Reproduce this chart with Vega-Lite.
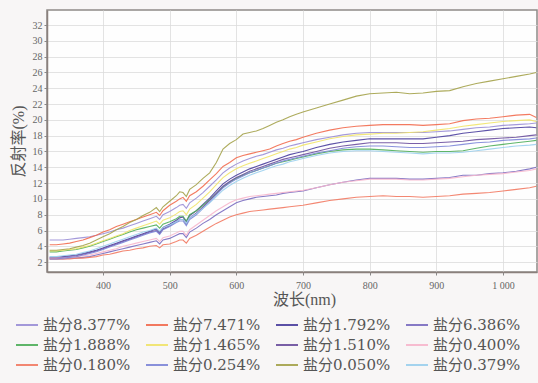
{
  "$schema": "https://vega.github.io/schema/vega-lite/v6.json",
  "width": 490,
  "height": 262,
  "autosize": "none",
  "padding": {"left": 47, "top": 10, "right": 1, "bottom": 111},
  "background": "#f8f6f6",
  "config": {
    "view": {"stroke": "#8f8a88", "strokeWidth": 1.5, "fill": "#fefefe"},
    "axis": {"labelFont": "Liberation Serif", "titleFont": "Liberation Serif, Noto Sans CJK SC", "labelColor": "#666", "titleColor": "#555", "gridColor": "#dcdcdc", "gridWidth": 0.8, "domainColor": "#8a807c", "domainWidth": 1.5, "tickColor": "#888", "tickSize": 3}
  },
  "datasets": {
    "names": [
      {"k": "a", "name": "盐分8.377%"}, {"k": "b", "name": "盐分7.471%"}, {"k": "c", "name": "盐分1.792%"}, {"k": "d", "name": "盐分6.386%"},
      {"k": "e", "name": "盐分1.888%"}, {"k": "f", "name": "盐分1.465%"}, {"k": "g", "name": "盐分1.510%"}, {"k": "h", "name": "盐分0.400%"},
      {"k": "i", "name": "盐分0.180%"}, {"k": "j", "name": "盐分0.254%"}, {"k": "k", "name": "盐分0.050%"}, {"k": "l", "name": "盐分0.379%"}
    ]
  },
  "data": {"values": [
    {"w":320,"a":4.8,"b":4.2,"c":2.6,"d":2.4,"e":3.3,"f":3.4,"g":2.5,"h":2.5,"i":2.4,"j":2.4,"k":3.5,"l":2.7},
    {"w":330,"a":4.8,"b":4.2,"c":2.6,"d":2.4,"e":3.3,"f":3.4,"g":2.5,"h":2.5,"i":2.4,"j":2.4,"k":3.5,"l":2.7},
    {"w":340,"a":4.8,"b":4.3,"c":2.7,"d":2.4,"e":3.4,"f":3.5,"g":2.6,"h":2.5,"i":2.4,"j":2.5,"k":3.6,"l":2.8},
    {"w":350,"a":4.9,"b":4.4,"c":2.8,"d":2.5,"e":3.5,"f":3.6,"g":2.7,"h":2.6,"i":2.4,"j":2.6,"k":3.7,"l":2.9},
    {"w":360,"a":5.0,"b":4.6,"c":2.9,"d":2.5,"e":3.6,"f":3.7,"g":2.8,"h":2.7,"i":2.5,"j":2.7,"k":3.9,"l":3.0},
    {"w":370,"a":5.1,"b":4.8,"c":3.1,"d":2.6,"e":3.8,"f":3.9,"g":3.0,"h":2.8,"i":2.5,"j":2.9,"k":4.1,"l":3.2},
    {"w":380,"a":5.2,"b":5.1,"c":3.3,"d":2.7,"e":4.0,"f":4.1,"g":3.2,"h":2.9,"i":2.6,"j":3.1,"k":4.4,"l":3.4},
    {"w":390,"a":5.4,"b":5.4,"c":3.5,"d":2.9,"e":4.3,"f":4.4,"g":3.4,"h":3.1,"i":2.7,"j":3.3,"k":4.8,"l":3.7},
    {"w":400,"a":5.6,"b":5.8,"c":3.8,"d":3.1,"e":4.6,"f":4.7,"g":3.7,"h":3.3,"i":2.9,"j":3.6,"k":5.2,"l":4.0},
    {"w":410,"a":5.8,"b":6.1,"c":4.1,"d":3.3,"e":4.9,"f":5.0,"g":4.0,"h":3.5,"i":3.0,"j":3.9,"k":5.6,"l":4.3},
    {"w":420,"a":6.1,"b":6.5,"c":4.4,"d":3.5,"e":5.2,"f":5.3,"g":4.3,"h":3.7,"i":3.2,"j":4.2,"k":6.1,"l":4.6},
    {"w":430,"a":6.3,"b":6.8,"c":4.7,"d":3.7,"e":5.5,"f":5.6,"g":4.6,"h":4.0,"i":3.4,"j":4.5,"k":6.5,"l":4.9},
    {"w":440,"a":6.6,"b":7.1,"c":5.0,"d":3.9,"e":5.8,"f":6.0,"g":4.9,"h":4.2,"i":3.5,"j":4.8,"k":7.0,"l":5.2},
    {"w":450,"a":6.9,"b":7.4,"c":5.3,"d":4.1,"e":6.1,"f":6.3,"g":5.2,"h":4.4,"i":3.7,"j":5.1,"k":7.4,"l":5.5},
    {"w":460,"a":7.2,"b":7.7,"c":5.6,"d":4.3,"e":6.3,"f":6.6,"g":5.5,"h":4.6,"i":3.8,"j":5.4,"k":7.9,"l":5.8},
    {"w":470,"a":7.5,"b":8.0,"c":5.9,"d":4.5,"e":6.5,"f":6.9,"g":5.8,"h":4.8,"i":4.0,"j":5.7,"k":8.3,"l":6.0},
    {"w":480,"a":7.8,"b":8.3,"c":6.2,"d":4.7,"e":6.7,"f":7.2,"g":6.0,"h":5.0,"i":4.1,"j":5.9,"k":8.9,"l":6.3},
    {"w":485,"a":7.4,"b":7.9,"c":5.8,"d":4.3,"e":6.3,"f":6.8,"g":5.6,"h":4.6,"i":3.8,"j":5.5,"k":8.4,"l":5.9},
    {"w":490,"a":8.0,"b":8.5,"c":6.4,"d":4.8,"e":6.8,"f":7.3,"g":6.2,"h":5.1,"i":4.2,"j":6.1,"k":9.0,"l":6.4},
    {"w":500,"a":8.4,"b":9.2,"c":6.8,"d":5.0,"e":7.1,"f":7.6,"g":6.6,"h":5.3,"i":4.3,"j":6.5,"k":9.7,"l":6.7},
    {"w":510,"a":8.9,"b":9.7,"c":7.3,"d":5.4,"e":7.5,"f":8.1,"g":7.1,"h":5.7,"i":4.6,"j":7.0,"k":10.4,"l":7.1},
    {"w":515,"a":9.2,"b":10.0,"c":7.6,"d":5.6,"e":7.8,"f":8.4,"g":7.4,"h":5.9,"i":4.8,"j":7.2,"k":10.9,"l":7.4},
    {"w":520,"a":9.3,"b":10.2,"c":7.7,"d":5.6,"e":7.8,"f":8.5,"g":7.4,"h":5.9,"i":4.8,"j":7.2,"k":10.8,"l":7.4},
    {"w":525,"a":8.8,"b":9.7,"c":7.1,"d":5.1,"e":7.2,"f":8.0,"g":6.8,"h":5.4,"i":4.4,"j":6.6,"k":10.3,"l":6.9},
    {"w":530,"a":9.5,"b":10.4,"c":7.9,"d":5.8,"e":8.0,"f":8.7,"g":7.6,"h":6.1,"i":5.0,"j":7.4,"k":11.2,"l":7.6},
    {"w":540,"a":10.1,"b":10.9,"c":8.5,"d":6.3,"e":8.5,"f":9.3,"g":8.2,"h":6.7,"i":5.4,"j":8.0,"k":11.8,"l":8.1},
    {"w":550,"a":10.8,"b":11.6,"c":9.3,"d":6.9,"e":9.2,"f":10.1,"g":9.0,"h":7.3,"i":5.9,"j":8.8,"k":12.6,"l":8.8},
    {"w":560,"a":11.6,"b":12.4,"c":10.1,"d":7.4,"e":9.9,"f":10.9,"g":9.8,"h":7.9,"i":6.4,"j":9.6,"k":13.3,"l":9.5},
    {"w":570,"a":12.4,"b":13.2,"c":11.0,"d":8.0,"e":10.7,"f":11.8,"g":10.7,"h":8.5,"i":6.9,"j":10.5,"k":14.6,"l":10.3},
    {"w":580,"a":13.3,"b":14.1,"c":11.9,"d":8.5,"e":11.5,"f":12.7,"g":11.6,"h":9.0,"i":7.3,"j":11.4,"k":16.3,"l":11.1},
    {"w":590,"a":13.9,"b":14.6,"c":12.5,"d":9.0,"e":12.1,"f":13.3,"g":12.2,"h":9.5,"i":7.7,"j":12.0,"k":17.0,"l":11.7},
    {"w":600,"a":14.4,"b":15.2,"c":13.0,"d":9.5,"e":12.6,"f":13.8,"g":12.7,"h":9.9,"i":8.0,"j":12.5,"k":17.5,"l":12.2},
    {"w":610,"a":14.8,"b":15.5,"c":13.4,"d":9.8,"e":13.0,"f":14.2,"g":13.1,"h":10.1,"i":8.2,"j":12.9,"k":18.2,"l":12.6},
    {"w":620,"a":15.1,"b":15.7,"c":13.8,"d":10.0,"e":13.3,"f":14.5,"g":13.5,"h":10.3,"i":8.4,"j":13.3,"k":18.4,"l":13.0},
    {"w":630,"a":15.4,"b":15.9,"c":14.1,"d":10.2,"e":13.6,"f":14.8,"g":13.8,"h":10.4,"i":8.5,"j":13.6,"k":18.6,"l":13.3},
    {"w":640,"a":15.6,"b":16.1,"c":14.4,"d":10.3,"e":13.9,"f":15.1,"g":14.1,"h":10.5,"i":8.6,"j":13.9,"k":18.9,"l":13.6},
    {"w":650,"a":15.9,"b":16.3,"c":14.7,"d":10.4,"e":14.2,"f":15.4,"g":14.4,"h":10.6,"i":8.7,"j":14.2,"k":19.3,"l":13.9},
    {"w":660,"a":16.2,"b":16.7,"c":15.0,"d":10.5,"e":14.5,"f":15.7,"g":14.7,"h":10.7,"i":8.8,"j":14.5,"k":19.7,"l":14.2},
    {"w":670,"a":16.4,"b":17.0,"c":15.3,"d":10.7,"e":14.7,"f":16.0,"g":15.0,"h":10.8,"i":8.9,"j":14.8,"k":20.0,"l":14.4},
    {"w":680,"a":16.7,"b":17.3,"c":15.6,"d":10.8,"e":14.9,"f":16.3,"g":15.2,"h":10.9,"i":9.0,"j":15.0,"k":20.4,"l":14.7},
    {"w":690,"a":16.9,"b":17.5,"c":15.8,"d":10.9,"e":15.1,"f":16.5,"g":15.4,"h":11.0,"i":9.1,"j":15.2,"k":20.7,"l":14.9},
    {"w":700,"a":17.1,"b":17.8,"c":16.0,"d":11.0,"e":15.3,"f":16.8,"g":15.6,"h":11.1,"i":9.2,"j":15.4,"k":21.0,"l":15.1},
    {"w":720,"a":17.5,"b":18.3,"c":16.5,"d":11.4,"e":15.7,"f":17.2,"g":16.0,"h":11.4,"i":9.5,"j":15.8,"k":21.5,"l":15.5},
    {"w":740,"a":17.8,"b":18.7,"c":16.9,"d":11.8,"e":16.0,"f":17.6,"g":16.4,"h":11.8,"i":9.8,"j":16.1,"k":22.0,"l":15.8},
    {"w":760,"a":18.1,"b":19.0,"c":17.2,"d":12.1,"e":16.2,"f":17.9,"g":16.7,"h":12.1,"i":10.0,"j":16.4,"k":22.5,"l":16.0},
    {"w":780,"a":18.3,"b":19.2,"c":17.4,"d":12.4,"e":16.3,"f":18.1,"g":16.9,"h":12.3,"i":10.2,"j":16.6,"k":23.0,"l":16.1},
    {"w":800,"a":18.4,"b":19.3,"c":17.6,"d":12.6,"e":16.3,"f":18.2,"g":17.1,"h":12.5,"i":10.3,"j":16.7,"k":23.3,"l":16.1},
    {"w":820,"a":18.4,"b":19.4,"c":17.6,"d":12.6,"e":16.2,"f":18.3,"g":17.1,"h":12.5,"i":10.4,"j":16.7,"k":23.4,"l":16.0},
    {"w":840,"a":18.4,"b":19.4,"c":17.6,"d":12.6,"e":16.1,"f":18.3,"g":17.1,"h":12.5,"i":10.3,"j":16.6,"k":23.5,"l":15.9},
    {"w":860,"a":18.4,"b":19.4,"c":17.6,"d":12.5,"e":16.0,"f":18.4,"g":17.0,"h":12.4,"i":10.3,"j":16.5,"k":23.3,"l":15.8},
    {"w":880,"a":18.4,"b":19.3,"c":17.6,"d":12.5,"e":15.9,"f":18.5,"g":17.0,"h":12.4,"i":10.2,"j":16.5,"k":23.4,"l":15.7},
    {"w":900,"a":18.5,"b":19.4,"c":17.8,"d":12.6,"e":16.0,"f":18.7,"g":17.1,"h":12.5,"i":10.3,"j":16.6,"k":23.6,"l":15.8},
    {"w":920,"a":18.6,"b":19.5,"c":18.0,"d":12.7,"e":16.0,"f":18.9,"g":17.2,"h":12.6,"i":10.4,"j":16.7,"k":23.7,"l":15.8},
    {"w":940,"a":18.8,"b":19.9,"c":18.3,"d":13.0,"e":16.1,"f":19.2,"g":17.3,"h":12.8,"i":10.6,"j":16.9,"k":24.2,"l":15.9},
    {"w":960,"a":19.0,"b":20.1,"c":18.5,"d":13.0,"e":16.4,"f":19.4,"g":17.5,"h":13.0,"i":10.7,"j":17.1,"k":24.6,"l":16.1},
    {"w":980,"a":19.1,"b":20.2,"c":18.7,"d":13.2,"e":16.7,"f":19.6,"g":17.6,"h":13.1,"i":10.8,"j":17.2,"k":24.9,"l":16.3},
    {"w":1000,"a":19.3,"b":20.4,"c":18.9,"d":13.3,"e":16.9,"f":19.8,"g":17.7,"h":13.2,"i":11.0,"j":17.4,"k":25.2,"l":16.5},
    {"w":1020,"a":19.4,"b":20.6,"c":19.0,"d":13.5,"e":17.1,"f":19.9,"g":17.8,"h":13.4,"i":11.2,"j":17.5,"k":25.5,"l":16.7},
    {"w":1040,"a":19.5,"b":20.7,"c":19.1,"d":13.8,"e":17.3,"f":20.0,"g":18.0,"h":13.6,"i":11.4,"j":17.6,"k":25.8,"l":16.8},
    {"w":1050,"a":19.6,"b":20.3,"c":19.0,"d":14.0,"e":17.4,"f":19.8,"g":18.1,"h":13.8,"i":11.6,"j":17.7,"k":26.0,"l":16.9}
  ]},
  "transform": [
    {"fold": ["a","b","c","d","e","f","g","h","i","j","k","l"], "as": ["k", "r"]},
    {"lookup": "k", "from": {"data": {"name": "names"}, "key": "k", "fields": ["name"]}}
  ],
  "mark": {"type": "line", "strokeWidth": 1.1, "opacity": 0.9, "clip": true},
  "encoding": {
    "x": {"field": "w", "type": "quantitative",
      "scale": {"domain": [316, 1051], "nice": false, "zero": false},
      "axis": {"values": [400, 500, 600, 700, 800, 900, 1000], "labelExpr": "datum.value == 1000 ? '1 000' : datum.label", "labelFontSize": 10, "labelPadding": 5, "title": "波长(nm)", "titleFontSize": 16, "titleFontWeight": "normal", "titlePadding": 1, "titleX": 257}},
    "y": {"field": "r", "type": "quantitative",
      "scale": {"domain": [0.75, 33.9], "nice": false, "zero": false},
      "axis": {"values": [2,4,6,8,10,12,14,16,18,20,22,24,26,28,30,32], "labelFontSize": 10, "labelPadding": 2, "title": "反射率(%)", "titleFontSize": 16, "titleFontWeight": "normal", "titlePadding": 6}},
    "color": {"field": "name", "type": "nominal",
      "scale": {
        "domain": ["盐分8.377%", "盐分7.471%", "盐分1.792%", "盐分6.386%", "盐分1.888%", "盐分1.465%", "盐分1.510%", "盐分0.400%", "盐分0.180%", "盐分0.254%", "盐分0.050%", "盐分0.379%"],
        "range": ["#9a8ed6", "#f26b4f", "#4b3f9e", "#7a6cc0", "#4fae5a", "#f1e46a", "#6c4f9e", "#f7b6cc", "#f27a63", "#7d86d8", "#a4a24a", "#9cd0ee"]},
      "legend": {"orient": "none", "legendX": -32, "legendY": 303, "direction": "horizontal", "columns": 4, "title": null,
        "symbolType": "stroke", "symbolSize": 484, "symbolStrokeWidth": 2, "labelFont": "DejaVu Serif, Noto Sans CJK SC", "labelFontSize": 15, "labelColor": "#555", "labelOffset": 4, "labelLimit": 200, "rowPadding": 0, "columnPadding": 11}}
  }
}
